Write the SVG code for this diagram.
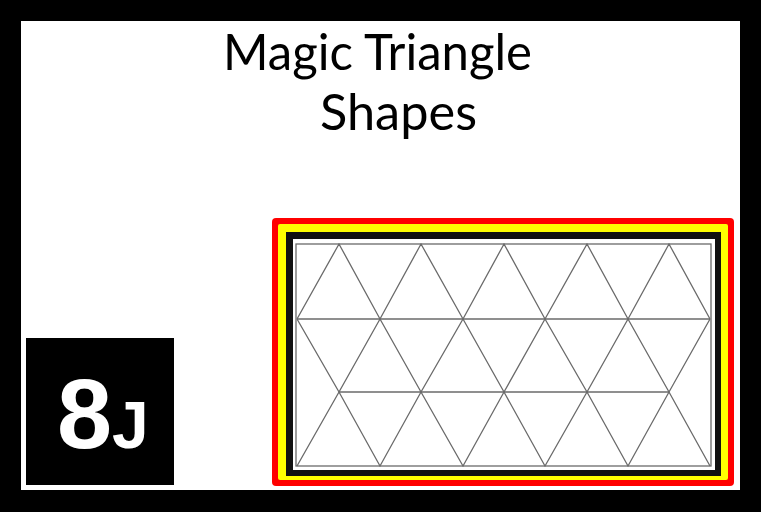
<svg xmlns="http://www.w3.org/2000/svg" width="761" height="512" viewBox="0 0 761 512">
<style>
.title{font-family:Lato,"Liberation Sans",sans-serif;font-size:51px;fill:#000;}
.badge{font-family:"Liberation Sans",Arial,sans-serif;font-weight:bold;fill:#fff;}
.grid{fill:none;stroke:#6a6a6a;stroke-width:1.3;stroke-linejoin:miter;}
</style>
<rect x="0" y="0" width="761" height="512" fill="#000"/>
<rect x="21" y="21" width="719" height="469" fill="#fff"/>
<g id="title">
<text class="title" x="377.5" y="70" text-anchor="middle" textLength="309" lengthAdjust="spacingAndGlyphs">Magic Triangle</text>
<text class="title" x="398.5" y="130" text-anchor="middle" textLength="157" lengthAdjust="spacingAndGlyphs">Shapes</text>
</g>
<g id="badge">
<rect x="26" y="338" width="148" height="147" fill="#000"/>
<text class="badge" x="57" y="448" font-size="99">8</text>
<text class="badge" x="112" y="448" font-size="66">J</text>
</g>
<g id="frame">
<rect x="272" y="218" width="462" height="268" rx="4" fill="#f00"/>
<rect x="278" y="224" width="450" height="256" rx="2" fill="#ff0"/>
<rect x="286" y="232" width="435" height="244" fill="#111"/>
<rect x="293" y="239" width="422" height="231" fill="#fff"/>
</g>
<g id="grid" class="grid">
<rect x="296" y="244" width="415" height="222"/>
<line x1="297" y1="319" x2="710" y2="319"/>
<line x1="339" y1="392" x2="669" y2="392"/>
<polyline points="297,319 339,244 380,319 421,244 463,319 504,244 545,319 587,244 628,319 669,244 710,319"/>
<polyline points="297,319 339,392 380,319 421,392 463,319 504,392 545,319 587,392 628,319 669,392 710,319"/>
<polyline points="297,466 339,392 380,466 421,392 463,466 504,392 545,466 587,392 628,466 669,392 710,466"/>
</g>
</svg>
